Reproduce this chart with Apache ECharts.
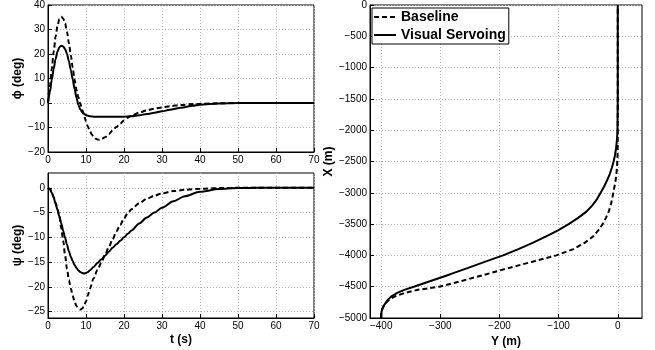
<!DOCTYPE html>
<html><head><meta charset="utf-8">
<script src="https://cdn.jsdelivr.net/npm/echarts@6/dist/echarts.min.js"></script>
<style>html,body{margin:0;padding:0;background:#fff}#c{width:655px;height:350px}</style>
</head><body><div id="c"></div>
<script>
// ---- top-left: phi vs t ----
const tPhi = [0,0.5,1,1.5,2,2.5,3,3.5,4,4.5,5,5.5,6,6.5,7,7.5,8,8.5,9,9.5,10,10.5,11,11.5,12,12.5,13,13.5,14,15,16,17,18,19,20,21,22,24,26,28,30,32,35,38,40,45,50,55,60,70];
const phiBaseline = [0,7,14,21,27,31.5,34.3,35.2,34.5,32.5,29,24.5,19.5,14.5,9.5,5.3,2.3,-0.3,-2.8,-5.2,-7.5,-9.6,-11.4,-12.8,-13.8,-14.5,-14.9,-15,-14.8,-14,-12.7,-11.2,-9.8,-8.4,-7.1,-6,-5.1,-3.9,-3,-2.3,-1.8,-1.3,-0.8,-0.45,-0.3,-0.1,0,0,0,0];
const phiVS = [0,4.5,9.5,14,18,21,22.8,23.4,23.1,22,20,17,13.5,9.6,5.7,2.1,-0.8,-2.6,-3.7,-4.4,-4.9,-5.2,-5.4,-5.5,-5.6,-5.6,-5.6,-5.6,-5.6,-5.6,-5.6,-5.6,-5.6,-5.6,-5.6,-5.5,-5.4,-5,-4.5,-4,-3.4,-2.8,-1.9,-1.1,-0.7,-0.2,0,0,0,0];
// ---- bottom-left: psi vs t ----
const tPsi = [0,0.5,1,1.5,2,2.5,3,3.5,4,4.5,5,5.5,6,6.5,7,7.5,8,8.5,9,9.5,10,10.5,11,12,13,14,15,16,17,18,19,20,21,22,24,26,28,30,33,36,40,45,50,55,60,70];
const psiBaseline = [0,-0.2,-0.8,-1.8,-3,-4.3,-5.8,-8.2,-10.7,-13.7,-16.4,-18.6,-20.3,-21.8,-23,-23.9,-24.4,-24.6,-24.4,-23.8,-22.9,-21.7,-20.4,-18.3,-16.6,-15.2,-13.6,-12,-10.4,-8.8,-7.5,-6.2,-5.1,-4.3,-3.1,-2.2,-1.6,-1.1,-0.65,-0.4,-0.2,-0.05,0,0,0,0];
const psiVS = [0,-0.3,-1,-2,-3.2,-4.5,-5.8,-7.2,-8.7,-10.1,-11.5,-12.8,-13.9,-14.8,-15.6,-16.2,-16.7,-17,-17.2,-17.3,-17.2,-17,-16.7,-16,-15.2,-14.5,-13.7,-12.9,-12.1,-11.4,-10.7,-10,-9.3,-8.6,-7.2,-6,-5,-4,-2.7,-1.7,-0.8,-0.25,-0.05,0,0,0];
// ---- right: X vs Y trajectory ----
const posX = [-5000,-4950,-4900,-4850,-4800,-4750,-4700,-4650,-4600,-4550,-4500,-4400,-4300,-4200,-4100,-4000,-3900,-3800,-3700,-3600,-3500,-3400,-3300,-3200,-3100,-3000,-2900,-2800,-2700,-2600,-2500,-2400,-2300,-2200,-2100,-2000,-1500,-1000,-500,0];
const posYBaseline = [-400,-400,-399.5,-398,-395.5,-391,-386,-376,-360,-338,-302,-261,-222,-184,-144,-104,-75,-56,-42,-33,-25.5,-20,-15.3,-12,-9.5,-7.5,-5.5,-3.6,-2.3,-1.4,-0.8,-0.4,-0.2,-0.1,0,0,0,0,0,0];
const posYVS = [-400,-400,-399.5,-398,-395.5,-392,-388,-382,-373,-361,-345,-314,-283,-253,-224,-194,-168,-144,-122,-101,-83,-67,-53,-43,-35,-29,-23,-18,-13.5,-10,-7,-4.7,-3,-1.8,-1,-0.5,0,0,0,0];
const seriesNames = ['Baseline','Visual Servoing'];
const phiTicks = [-20,-10,0,10,20,30,40];
const psiTicks = [-25,-20,-15,-10,-5,0];
const tTicks = [0,10,20,30,40,50,60,70];
const posYTicks = [-400,-300,-200,-100,0];
const posXTicks = [-5000,-4500,-4000,-3500,-3000,-2500,-2000,-1500,-1000,-500,0];

const FONT = "'Liberation Sans', Arial, Helvetica, sans-serif";
const fmt = v => String(Math.round(v)).replace('-', '\u2212');
function axisCommon(ticks, extra){
  return Object.assign({
    type:'value',
    axisLine:{show:true, onZero:false, lineStyle:{color:'#000', width:1}},
    axisTick:{show:true, inside:true, length:4, lineStyle:{color:'#000'}, customValues:ticks},
    axisLabel:{color:'#000', fontSize:10, fontFamily:FONT, margin:3, formatter: fmt, customValues:ticks},
    splitLine:{show:true, lineStyle:{color:'#b4b4b4', width:1, type:[1,2]}},
    nameTextStyle:{color:'#000', fontSize:12, fontWeight:'bold', fontFamily:FONT}
  }, extra);
}
const zip = (a,b) => a.map((v,i)=>[v,b[i]]);
const dashStyle = {color:'#000', width:2, type:[5,3]};
const solidStyle = {color:'#000', width:2, type:'solid'};
function line(name, data, xi, yi, style){
  return {name, type:'line', xAxisIndex:xi, yAxisIndex:yi, data, showSymbol:false, symbol:'none',
    smooth:(xi===2?false:0.3), smoothMonotone:'x', lineStyle:style, itemStyle:{color:'#000'}, animation:false, clip:true};
}
const gridBase = {show:true, borderColor:'#000', borderWidth:1, containLabel:false, outerBoundsMode:'none'};

const chart = echarts.init(document.getElementById('c'), null, {renderer:'canvas'});
chart.setOption({
  animation:false,
  backgroundColor:'#fff',
  grid:[
    Object.assign({left:48, top:5, width:266, height:147}, gridBase),
    Object.assign({left:48, top:173, width:266, height:145}, gridBase),
    Object.assign({left:370, top:5, width:272, height:313}, gridBase)
  ],
  legend:{
    data:seriesNames, left:372, top:8, orient:'vertical', itemWidth:22, itemHeight:10, itemGap:4,
    padding:[2,3,2,1], borderColor:'#000', borderWidth:1, backgroundColor:'#fff',
    itemStyle:{opacity:0},
    textStyle:{color:'#000', fontSize:14, fontWeight:'bold', fontFamily:FONT}
  },
  xAxis:[
    axisCommon(tTicks, {gridIndex:0, min:0, max:70}),
    axisCommon(tTicks, {gridIndex:1, min:0, max:70, name:'t (s)', nameLocation:'middle', nameGap:16}),
    axisCommon(posYTicks, {gridIndex:2, min:-419, max:41, name:'Y (m)', nameLocation:'middle', nameGap:16})
  ],
  yAxis:[
    axisCommon(phiTicks, {gridIndex:0, min:-20, max:40, name:'\u03D5 (deg)', nameLocation:'middle', nameGap:17}),
    axisCommon(psiTicks, {gridIndex:1, min:-26.3, max:3, name:'\u03C8 (deg)', nameLocation:'middle', nameGap:17}),
    axisCommon(posXTicks, {gridIndex:2, min:-5000, max:0, name:'X (m)', nameLocation:'middle', nameGap:32})
  ],
  series:[
    line(seriesNames[0], zip(tPhi, phiBaseline), 0, 0, dashStyle),
    line(seriesNames[1], zip(tPhi, phiVS), 0, 0, solidStyle),
    line(seriesNames[0], zip(tPsi, psiBaseline), 1, 1, dashStyle),
    line(seriesNames[1], zip(tPsi, psiVS), 1, 1, solidStyle),
    line(seriesNames[0], zip(posYBaseline, posX), 2, 2, dashStyle),
    line(seriesNames[1], zip(posYVS, posX), 2, 2, solidStyle)
  ]
});
</script></body></html>
